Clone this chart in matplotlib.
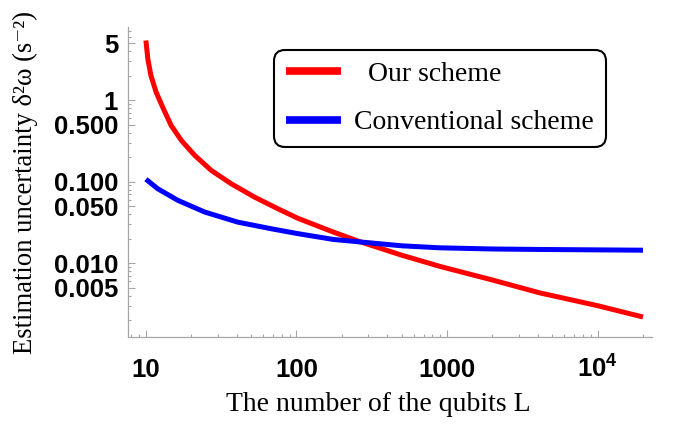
import matplotlib
matplotlib.use("Agg")
import matplotlib.pyplot as plt
from matplotlib.ticker import FixedLocator, FixedFormatter, NullFormatter

# values (log-log axes)
L_ours = [10, 10.3, 10.8, 11.7, 13.0, 14.7, 17.2, 21.1, 27.2, 36.9, 52.7, 75.3,
          102, 176, 264, 324, 500, 898, 2000, 4150, 10000, 20000]
ours = [5.4, 3.2, 2.0, 1.25, 0.8, 0.49, 0.32, 0.21, 0.137, 0.094, 0.0645,
        0.0464, 0.0355, 0.024, 0.0183, 0.0162, 0.0125, 0.0091, 0.0062,
        0.0043, 0.0030, 0.00218]

L_conv = [10, 12.0, 16.3, 24.6, 40.8, 67.9, 102, 176, 264, 500, 898, 2000,
          4150, 20000]
conv = [0.107, 0.0816, 0.0589, 0.0423, 0.0318, 0.0264, 0.023, 0.0195, 0.0182,
        0.0163, 0.0154, 0.0149, 0.0147, 0.0144]

labels = ["  Our scheme", "Conventional scheme"]
colors = ["#ff0000", "#0000ff"]

x_major = [10, 100, 1000, 10000]
x_major_labels = ["10", "100", "1000", r"$\mathbf{10^4}$"]
y_major = [5, 1, 0.5, 0.1, 0.05, 0.01, 0.005]
y_major_labels = ["5", "1", "0.500", "0.100", "0.050", "0.010", "0.005"]

plt.rcParams["mathtext.fontset"] = "custom"
plt.rcParams["mathtext.rm"] = "Liberation Sans:bold"
plt.rcParams["mathtext.bf"] = "Liberation Sans:bold"

fig = plt.figure(figsize=(6.73, 4.24), dpi=100)
ax = fig.add_axes([0.190, 0.205, 0.779, 0.731])

ax.plot(L_ours, ours, color=colors[0], lw=3.6, label=labels[0],
        solid_capstyle="butt", solid_joinstyle="round")
ax.plot(L_conv, conv, color=colors[1], lw=3.6, label=labels[1],
        solid_capstyle="butt", solid_joinstyle="round")

ax.set_xscale("log")
ax.set_yscale("log")
ax.set_xlim(7.59, 23000)
ax.set_ylim(0.001236, 7.87)

# axes styled like the original: grey left/bottom lines, ticks pointing in
grey = "#a6a6a6"
for side in ["top", "right"]:
    ax.spines[side].set_visible(False)
for side in ["left", "bottom"]:
    ax.spines[side].set_color(grey)
    ax.spines[side].set_linewidth(0.9)

ax.xaxis.set_major_locator(FixedLocator(x_major))
ax.xaxis.set_major_formatter(FixedFormatter(x_major_labels))
ax.yaxis.set_major_locator(FixedLocator(y_major))
ax.yaxis.set_major_formatter(FixedFormatter(y_major_labels))

x_minor = [m * 10 ** e for e in range(0, 5) for m in range(2, 10)]
x_minor = [v for v in x_minor if v not in x_major]
y_minor = [m * 10 ** e for e in range(-3, 1) for m in range(1, 10)]
y_minor = [v for v in y_minor if not any(abs(v - t) < 1e-9 for t in y_major)]
ax.xaxis.set_minor_locator(FixedLocator(x_minor))
ax.yaxis.set_minor_locator(FixedLocator(y_minor))
ax.xaxis.set_minor_formatter(NullFormatter())
ax.yaxis.set_minor_formatter(NullFormatter())

ax.tick_params(which="both", direction="in", color=grey, width=0.8)
ax.tick_params(which="major", length=5)
ax.tick_params(which="minor", length=2.5)
ax.tick_params(axis="x", which="major", pad=29)
ax.tick_params(axis="y", which="major", pad=7)

for t in ax.get_xticklabels():
    t.set_fontfamily("Liberation Sans")
    t.set_fontweight("bold")
    t.set_fontsize(18.5)
    t.set_verticalalignment("baseline")
for t in ax.get_yticklabels():
    t.set_fontfamily("Liberation Sans")
    t.set_fontweight("bold")
    t.set_fontsize(18.5)

ax.set_xlabel("The number of the qubits L", family="Liberation Serif", fontsize=20)
ax.xaxis.set_label_coords(0.477, -0.177)
ax.set_ylabel("Estimation uncertainty δ²ω (s⁻²)",
              family=["Liberation Serif", "DejaVu Serif"], fontsize=19.2)
ax.yaxis.set_label_coords(-0.172, 0.5)

leg = ax.legend(loc="upper left", bbox_to_anchor=(0.279, 0.926),
                prop={"family": "Liberation Serif", "size": 20},
                handlelength=2.0, handletextpad=0.47, borderpad=0.42,
                labelspacing=0.82, borderaxespad=0, frameon=True, fancybox=True)
frame = leg.get_frame()
frame.set_edgecolor("black")
frame.set_linewidth(1.5)
frame.set_alpha(1)
frame.set_boxstyle("round", pad=0, rounding_size=0.4)
for line in leg.get_lines():
    line.set_linewidth(5.5)

fig.savefig("out.png", dpi=100, facecolor="white")
